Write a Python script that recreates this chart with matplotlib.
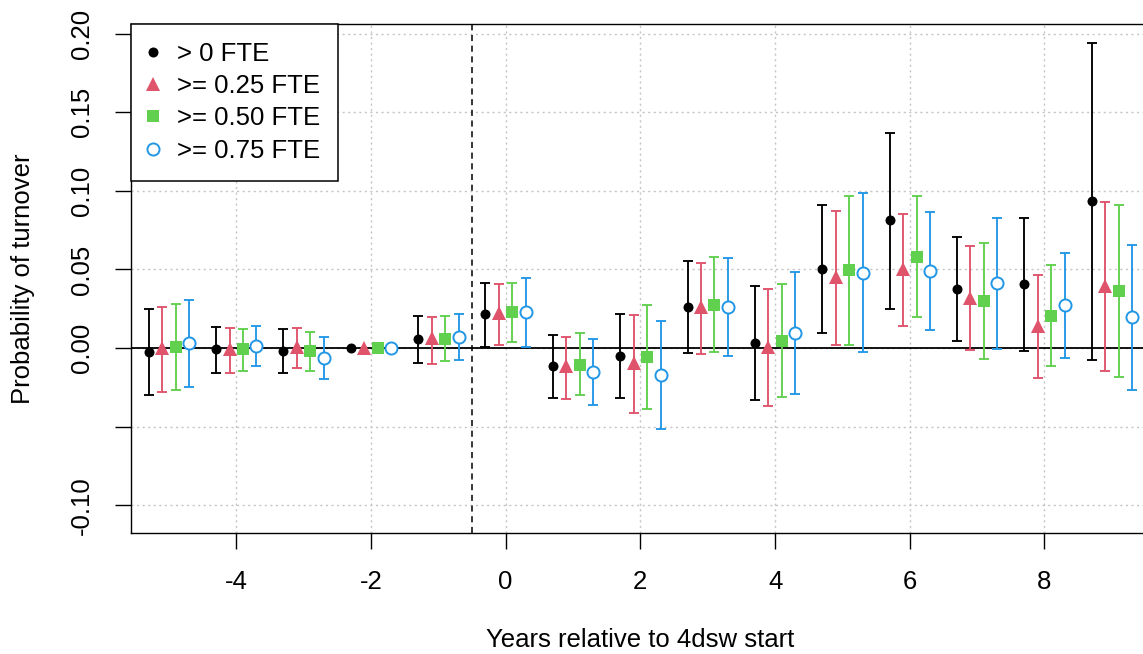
import numpy as np
import matplotlib
matplotlib.use("Agg")
import matplotlib.pyplot as plt
from matplotlib.lines import Line2D

plt.rcParams['font.family'] = ['Liberation Sans', 'DejaVu Sans']

# ── data ─────────────────────────────────────────────────────────────────────
years = [-5, -4, -3, -2, -1, 0, 1, 2, 3, 4, 5, 6, 7, 8, 9]
labels = ["> 0 FTE", ">= 0.25 FTE", ">= 0.50 FTE", ">= 0.75 FTE"]

est_0 = [-0.0024, -0.0008, -0.0019, 0.0, 0.0055, 0.0214, -0.0117, -0.0051, 0.0263, 0.0032, 0.0503, 0.0812, 0.0373, 0.0405, 0.0935]
lo_0 = [-0.0297, -0.0157, -0.0159, np.nan, -0.0097, 0.0008, -0.0316, -0.0316, -0.0030, -0.0329, 0.0093, 0.0250, 0.0043, -0.0017, -0.0074]
hi_0 = [0.0246, 0.0136, 0.0121, np.nan, 0.0206, 0.0414, 0.0083, 0.0218, 0.0555, 0.0394, 0.0910, 0.1368, 0.0706, 0.0825, 0.1940]

est_25 = [0.0, -0.0008, 0.0008, 0.0, 0.0062, 0.0225, -0.0112, -0.0093, 0.0262, 0.0008, 0.0454, 0.0500, 0.0320, 0.0140, 0.0396]
lo_25 = [-0.0282, -0.0159, -0.0129, np.nan, -0.0102, 0.0019, -0.0322, -0.0412, -0.0038, -0.0369, 0.0021, 0.0142, -0.0011, -0.0191, -0.0144]
hi_25 = [0.0260, 0.0130, 0.0129, np.nan, 0.0199, 0.0410, 0.0070, 0.0208, 0.0539, 0.0377, 0.0871, 0.0850, 0.0649, 0.0464, 0.0929]

est_50 = [0.0008, -0.0008, -0.0017, 0.0, 0.0059, 0.0231, -0.0106, -0.0055, 0.0275, 0.0046, 0.0498, 0.0580, 0.0299, 0.0204, 0.0363]
lo_50 = [-0.0265, -0.0144, -0.0144, np.nan, -0.0083, 0.0040, -0.0301, -0.0386, -0.0023, -0.0310, 0.0021, 0.0195, -0.0068, -0.0115, -0.0182]
hi_50 = [0.0278, 0.0123, 0.0104, np.nan, 0.0206, 0.0416, 0.0093, 0.0275, 0.0577, 0.0407, 0.0969, 0.0965, 0.0666, 0.0528, 0.0910]

est_75 = [0.0030, 0.0015, -0.0062, 0.0, 0.0070, 0.0229, -0.0153, -0.0170, 0.0263, 0.0095, 0.0479, 0.0488, 0.0412, 0.0272, 0.0195]
lo_75 = [-0.0246, -0.0112, -0.0199, np.nan, -0.0078, 0.0004, -0.0360, -0.0515, -0.0051, -0.0291, -0.0027, 0.0113, -0.0004, -0.0064, -0.0267]
hi_75 = [0.0303, 0.0140, 0.0072, np.nan, 0.0218, 0.0445, 0.0055, 0.0174, 0.0574, 0.0482, 0.0988, 0.0865, 0.0827, 0.0606, 0.0657]

xticks = [-4, -2, 0, 2, 4, 6, 8]
yticks = [-0.10, -0.05, 0.00, 0.05, 0.10, 0.15, 0.20]
ytick_labels = ["-0.10", "", "0.00", "0.05", "0.10", "0.15", "0.20"]

# ── styling ─────────────────────────────────────────────────────────────────
series = [
    (est_0, lo_0, hi_0, -0.3, '#000000', 'o', 7.2, True),
    (est_25, lo_25, hi_25, -0.1, '#DF536B', '^', 10, True),
    (est_50, lo_50, hi_50, 0.1, '#61D04F', 's', 8.4, True),
    (est_75, lo_75, hi_75, 0.3, '#2297E6', 'o', 8.7, False),
]
FS = 18.5

W, H = 1143, 654
fig = plt.figure(figsize=(W / 100, H / 100), dpi=100)
left, right, top, bottom = 131, 1149, 24, 533.3
ax = fig.add_axes([left / W, 1 - bottom / H, (right - left) / W, (bottom - top) / H])

ax.set_xlim(-5.563, 9.552)
ax.set_ylim(-0.1179, 0.2061)

grid_kw = dict(color='#C4C4C4', lw=1.0, ls=(0, (1.5, 2.5)), zorder=0)
for xv in xticks:
    ax.axvline(xv, **grid_kw)
for yv in yticks:
    ax.axhline(yv, **grid_kw)

ax.axhline(0, color='black', lw=1.3, zorder=1)
ax.axvline(-0.5, color='black', lw=1.1, ls=(0, (4, 3)), zorder=1)

yrs = np.array(years, dtype=float)
handles = []
for est, lo, hi, off, col, mk, ms, filled in series:
    est = np.array(est); lo = np.array(lo); hi = np.array(hi)
    ok = ~np.isnan(lo)
    ax.errorbar(yrs[ok] + off, est[ok], yerr=[est[ok] - lo[ok], hi[ok] - est[ok]],
                fmt='none', ecolor=col, elinewidth=1.35, capsize=3.9, capthick=1.35, zorder=2)
    style = dict(marker=mk, ms=ms, ls='none', color=col,
                 mfc=col if filled else 'white', mec=col, mew=0 if filled else 1.4)
    ax.plot(yrs + off, est, zorder=3, **style)
    handles.append(Line2D([], [], **style))

ax.set_xticks(xticks)
ax.set_xticklabels([str(v) for v in xticks])
ax.set_yticks(yticks)
ax.set_yticklabels(ytick_labels, rotation=90, va='center')
ax.tick_params(axis='both', direction='out', length=11.5, width=1.0, labelsize=FS, pad=15)

for s in ['left', 'bottom', 'top']:
    ax.spines[s].set_linewidth(1.0)
ax.spines['right'].set_visible(False)

ax.set_xlabel("Years relative to 4dsw start", fontsize=FS, va='center')
ax.xaxis.set_label_coords(0.5, -(640 - bottom) / (bottom - top))
ax.set_ylabel("Probability of turnover", fontsize=FS, va='center')
ax.yaxis.set_label_coords(-(left - 23) / (right - left), 0.5)

leg = ax.legend(handles, labels, loc='upper left', bbox_to_anchor=(0, 1), borderaxespad=0,
                fontsize=FS, frameon=True, fancybox=False, framealpha=1, edgecolor='black',
                borderpad=0.7, handlelength=0.35, handletextpad=0.75, labelspacing=0.32)
leg.get_frame().set_linewidth(1.1)
leg.set_zorder(5)

fig.savefig("out.png", dpi=100)
